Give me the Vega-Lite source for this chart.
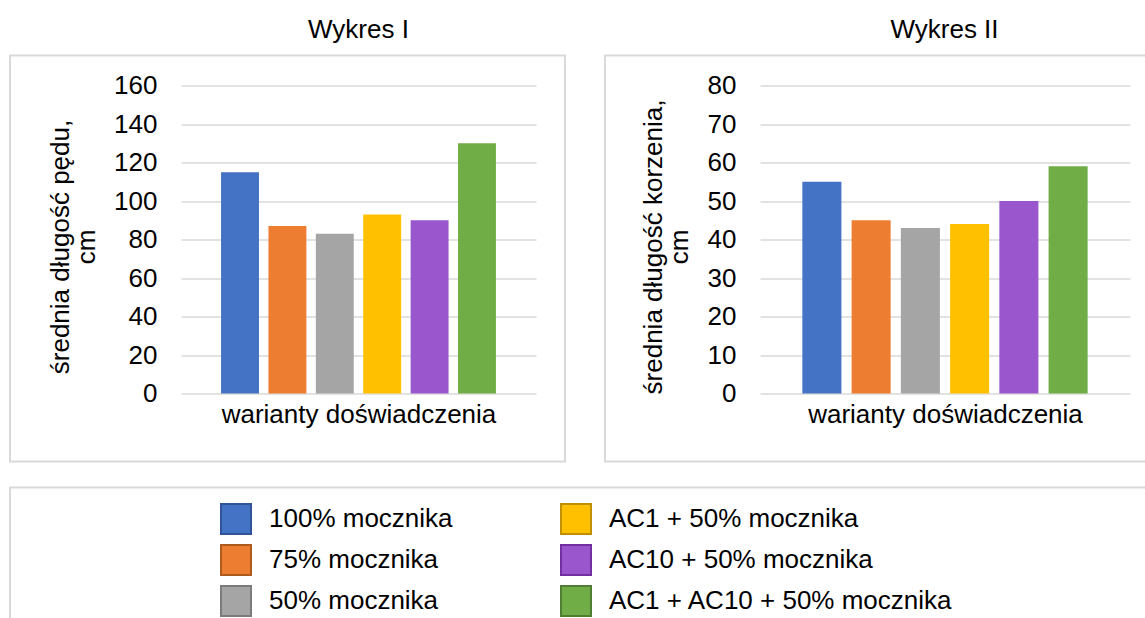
{
  "$schema": "https://vega.github.io/schema/vega-lite/v6.json",
  "background": "white",
  "padding": {"left": 9, "top": 15.5, "right": 0, "bottom": 0},
  "datasets": {
    "d": [
      {"wariant": "100% mocznika", "ped": 115, "korzen": 55},
      {"wariant": "75% mocznika", "ped": 87, "korzen": 45},
      {"wariant": "50% mocznika", "ped": 83, "korzen": 43},
      {"wariant": "AC1 + 50% mocznika", "ped": 93, "korzen": 44},
      {"wariant": "AC10 + 50% mocznika", "ped": 90, "korzen": 50},
      {"wariant": "AC1 + AC10 + 50% mocznika", "ped": 130, "korzen": 59}
    ]
  },
  "config": {
    "font": "Liberation Sans",
    "view": {"stroke": "#d9d9d9", "strokeWidth": 2},
    "axis": {
      "labelFont": "Liberation Sans", "titleFont": "Liberation Sans",
      "labelColor": "#000000", "titleColor": "#000000",
      "labelFontSize": 26, "titleFontSize": 26, "titleFontWeight": "normal",
      "gridColor": "#d9d9d9", "gridWidth": 1.5,
      "domain": false, "ticks": false
    },
    "title": {"font": "Liberation Sans", "fontSize": 26, "fontWeight": "normal", "color": "#000000", "anchor": "middle"},
    "legend": {
      "labelFont": "Liberation Sans", "labelFontSize": 26, "labelColor": "#000000", "labelLimit": 0
    }
  },
  "resolve": {
    "scale": {"fill": "independent", "stroke": "independent", "x": "independent", "y": "independent"},
    "legend": {"fill": "independent", "stroke": "independent"}
  },
  "spacing": 24,
  "vconcat": [
    {
      "hconcat": [
        {
          "title": {"text": "Wykres I", "dx": 71, "offset": 13},
          "width": 555,
          "height": 406,
          "data": {"name": "d"},
          "mark": {"type": "bar"},
          "encoding": {
            "x": {
              "field": "wariant", "type": "nominal",
              "sort": ["100% mocznika", "75% mocznika", "50% mocznika", "AC1 + 50% mocznika", "AC10 + 50% mocznika", "AC1 + AC10 + 50% mocznika"],
              "scale": {"range": [171, 526], "paddingInner": 0.2, "paddingOuter": 0.845, "align": 0.5},
              "axis": {"title": "warianty doświadczenia", "labels": false, "grid": false, "offset": -68, "titlePadding": 7.5}
            },
            "y": {
              "field": "ped", "type": "quantitative",
              "scale": {"domain": [0, 160], "range": [338, 30], "nice": false},
              "axis": {
                "title": ["średnia długość pędu,", "cm"],
                "values": [0, 20, 40, 60, 80, 100, 120, 140, 160],
                "grid": true, "offset": -171, "labelPadding": 24, "titlePadding": 14, "titleLineHeight": 26, "titleY": 191
              }
            },
            "fill": {
              "field": "wariant", "type": "nominal",
              "scale": {
                "domain": ["100% mocznika", "75% mocznika", "50% mocznika", "AC1 + 50% mocznika", "AC10 + 50% mocznika", "AC1 + AC10 + 50% mocznika"],
                "range": ["#4472C4", "#ED7D31", "#A5A5A5", "#FFC000", "#9A57CD", "#70AD47"]
              },
              "legend": null
            }
          }
        },
        {
          "title": {"text": "Wykres II", "dx": 62, "offset": 13},
          "width": 555,
          "height": 406,
          "data": {"name": "d"},
          "mark": {"type": "bar"},
          "encoding": {
            "x": {
              "field": "wariant", "type": "nominal",
              "sort": ["100% mocznika", "75% mocznika", "50% mocznika", "AC1 + 50% mocznika", "AC10 + 50% mocznika", "AC1 + AC10 + 50% mocznika"],
              "scale": {"range": [155, 525], "paddingInner": 0.207, "paddingOuter": 0.86, "align": 0.5},
              "axis": {"title": "warianty doświadczenia", "labels": false, "grid": false, "offset": -68, "titlePadding": 7.5}
            },
            "y": {
              "field": "korzen", "type": "quantitative",
              "scale": {"domain": [0, 80], "range": [338, 30], "nice": false},
              "axis": {
                "title": ["średnia długość korzenia,", "cm"],
                "values": [0, 10, 20, 30, 40, 50, 60, 70, 80],
                "grid": true, "offset": -155, "labelPadding": 24, "titlePadding": 15, "titleLineHeight": 26, "titleY": 191
              }
            },
            "fill": {
              "field": "wariant", "type": "nominal",
              "scale": {
                "domain": ["100% mocznika", "75% mocznika", "50% mocznika", "AC1 + 50% mocznika", "AC10 + 50% mocznika", "AC1 + AC10 + 50% mocznika"],
                "range": ["#4472C4", "#ED7D31", "#A5A5A5", "#FFC000", "#9A57CD", "#70AD47"]
              },
              "legend": null
            }
          }
        }
      ],
      "spacing": 38
    },
    {
      "width": 1150,
      "height": 140,
      "data": {"name": "d"},
      "transform": [{"filter": "false"}],
      "mark": {"type": "bar"},
      "encoding": {
        "x": {"field": "wariant", "type": "nominal", "axis": null},
        "y": {"field": "ped", "type": "quantitative", "axis": null},
        "fill": {
          "field": "wariant", "type": "nominal",
          "scale": {
            "domain": ["100% mocznika", "75% mocznika", "50% mocznika", "AC1 + 50% mocznika", "AC10 + 50% mocznika", "AC1 + AC10 + 50% mocznika"],
            "range": ["#4472C4", "#ED7D31", "#A5A5A5", "#FFC000", "#9A57CD", "#70AD47"]
          },
          "legend": {
            "title": null, "orient": "none", "legendX": 210, "legendY": 15.5,
            "columns": 2, "columnPadding": 104, "rowPadding": 3,
            "symbolType": "square", "symbolSize": 900, "symbolStrokeWidth": 2, "labelOffset": 17
          }
        },
        "stroke": {
          "field": "wariant", "type": "nominal",
          "scale": {
            "domain": ["100% mocznika", "75% mocznika", "50% mocznika", "AC1 + 50% mocznika", "AC10 + 50% mocznika", "AC1 + AC10 + 50% mocznika"],
            "range": ["#2F5597", "#AE5A21", "#7B7B7B", "#BF9000", "#7030A0", "#507E32"]
          },
          "legend": {
            "title": null, "orient": "none", "legendX": 210, "legendY": 15.5,
            "columns": 2, "columnPadding": 104, "rowPadding": 3,
            "symbolType": "square", "symbolSize": 900, "symbolStrokeWidth": 2, "labelOffset": 17
          }
        }
      }
    }
  ]
}
